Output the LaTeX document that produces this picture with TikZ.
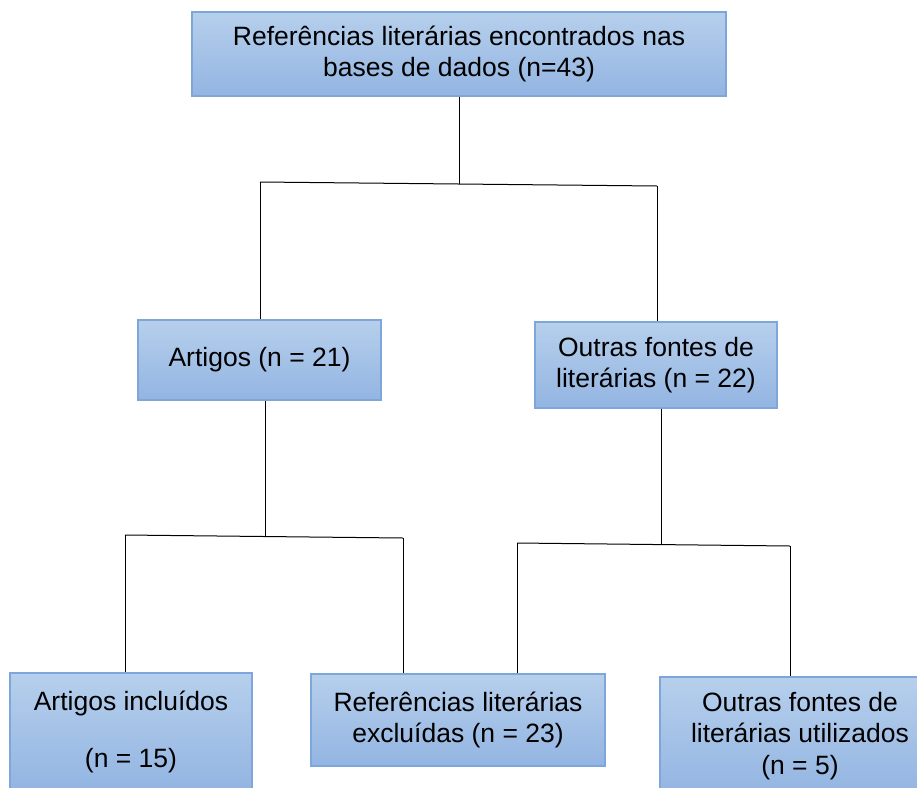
\documentclass[tikz,border=0pt]{standalone}
\usepackage{fontspec}
\setmainfont{Liberation Sans}
\usetikzlibrary{positioning,calc}
\definecolor{boxtop}{HTML}{B6CFEC}
\definecolor{boxbot}{HTML}{93B5E2}
\definecolor{boxline}{HTML}{7EA6DA}

\begin{document}
\begin{tikzpicture}[
  x=1pt, y=-1pt,
  font=\fontsize{26.5}{31.5}\selectfont,
  box/.style={rectangle, draw=boxline, line width=1.1pt, top color=boxtop, bottom color=boxbot, align=center, inner sep=0pt},
  line/.style={draw=black, line width=1pt}
]
\useasboundingbox (0,0) rectangle (917,787);

% Nodes
\node[box, minimum width=534pt, minimum height=84pt] (base) at (459,54) {Referências literárias encontrados nas\\bases de dados (n=43)};

\node[box, minimum width=243pt, minimum height=80pt] (artigos) at (259.5,360) {Artigos (n = 21)};
\node[box, minimum width=242pt, minimum height=86pt] (outras) at (656,365) {Outras fontes de\\literárias (n = 22)};

\node[box, minimum width=242pt, minimum height=117pt] (incluidos) at (131,731.5) {Artigos incluídos\\[25.5pt](n = 15)};
\node[box, minimum width=294pt, minimum height=92pt] (excluidos) at (458,720) {Referências literárias\\excluídas (n = 23)};
\node[box, minimum width=280pt, minimum height=118pt] (utilizados) at (800,736) {Outras fontes de\\literárias utilizados\\(n = 5)};

% Junctions
\coordinate (j0) at (459,184);
\coordinate (j0l) at (260,182);
\coordinate (j0r) at (657,186);
\coordinate (j1) at (265,536);
\coordinate (j1l) at (125,535);
\coordinate (j1r) at (403,538);
\coordinate (j2) at (661,545);
\coordinate (j2l) at (517,543);
\coordinate (j2r) at (790,546);

% Connectors
\draw[line] (base.south) -- (j0);
\draw[line] (j0l) -- (j0r);
\draw[line] (j0l) -- (j0l |- artigos.north);
\draw[line] (j0r) -- (j0r |- outras.north);

\draw[line] (j1 |- artigos.south) -- (j1);
\draw[line] (j1l) -- (j1r);
\draw[line] (j1l) -- (j1l |- incluidos.north);
\draw[line] (j1r) -- (j1r |- excluidos.north);

\draw[line] (j2 |- outras.south) -- (j2);
\draw[line] (j2l) -- (j2r);
\draw[line] (j2l) -- (j2l |- excluidos.north);
\draw[line] (j2r) -- (j2r |- utilizados.north);

\end{tikzpicture}
\end{document}
